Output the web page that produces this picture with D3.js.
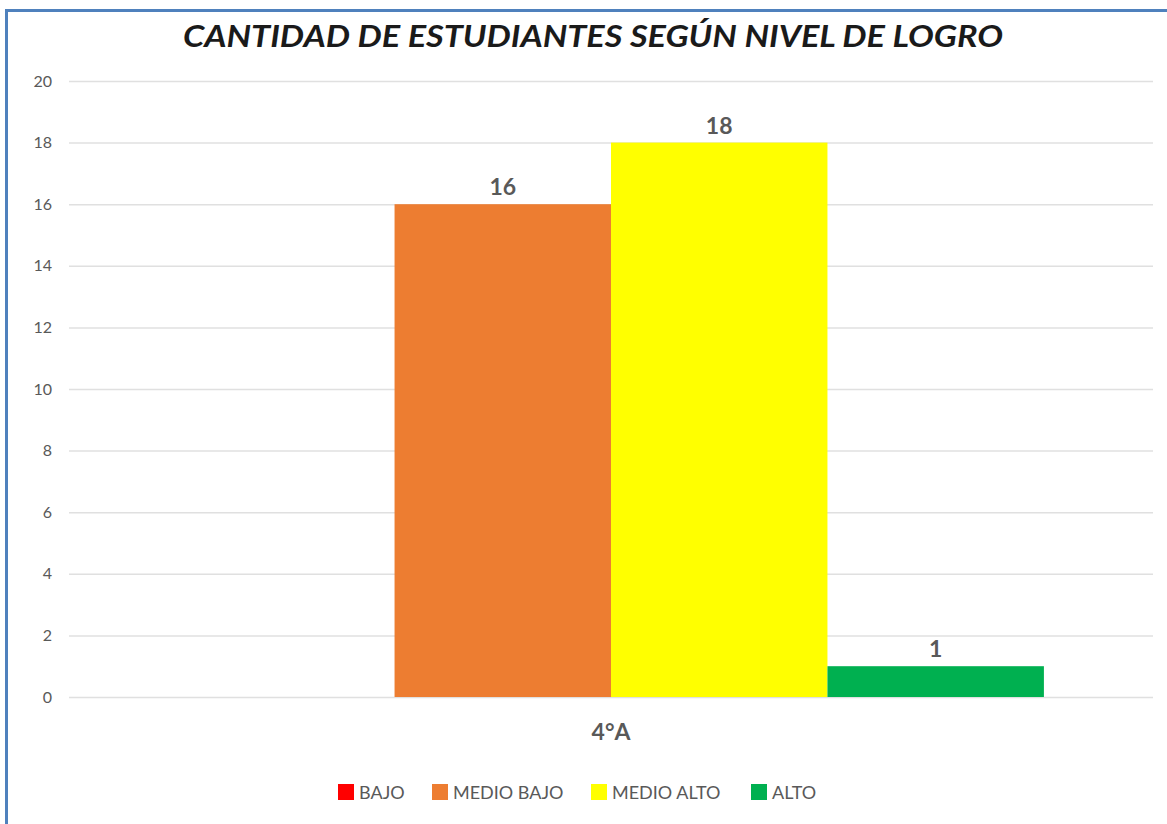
<!DOCTYPE html>
<html>
<head>
<meta charset="utf-8">
<script src="https://cdn.jsdelivr.net/npm/d3@7"></script>
<style>
	body { margin: 0; background: #fff; }
	svg { display: block; }
</style>
</head>
<body>
<div id="chart"></div>
<script>
// data
const categories = ["4°A"];
const series = ["BAJO", "MEDIO BAJO", "MEDIO ALTO", "ALTO"];
const values = [0, 16, 18, 1];
const colors = ["#ff0000", "#ed7d31", "#ffff00", "#00b050"];
const yTicks = [0, 2, 4, 6, 8, 10, 12, 14, 16, 18, 20];
const title = "CANTIDAD DE ESTUDIANTES SEGÚN NIVEL DE LOGRO";

const W = 1167, H = 824;
const margin = { left: 69, right: 14, top: 81, bottom: 127 };
const font = "Lato, 'Open Sans', sans-serif";

const svg = d3
	.select("#chart")
	.append("svg")
	.attr("width", W)
	.attr("height", H);

// outer frame (only top and left edges are visible in the picture)
svg.append("line")
	.attr("x1", 6).attr("x2", W).attr("y1", 10.5).attr("y2", 10.5)
	.attr("stroke", "#4f81bd").attr("stroke-width", 3);
svg.append("line")
	.attr("x1", 6.5).attr("x2", 6.5).attr("y1", 9).attr("y2", H)
	.attr("stroke", "#4f81bd").attr("stroke-width", 3);

const x0 = d3.scaleBand()
	.domain(categories)
	.range([margin.left, W - margin.right])
	.paddingOuter(0.126);

const x1 = d3.scaleBand()
	.domain(series)
	.range([0, x0.bandwidth()])
	.paddingInner(0)
	.paddingOuter(0);

const y = d3.scaleLinear()
	.domain([0, 20])
	.range([H - margin.bottom, margin.top]);

// gridlines + y labels
const yAxis = svg.append("g")
	.attr("class", "y-axis")
	.attr("transform", `translate(${margin.left}, 0)`)
	.call(
		d3.axisLeft(y)
			.tickValues(yTicks)
			.tickSize(-(W - margin.left - margin.right))
			.tickPadding(17)
	);
yAxis.select(".domain").remove();
yAxis.selectAll(".tick line").attr("stroke", "#e0e0e0").attr("stroke-width", 1.5);
yAxis.selectAll(".tick text")
	.attr("fill", "#595959")
	.attr("font-family", font)
	.attr("font-size", 16);

// bars
const group = svg.append("g")
	.selectAll("g")
	.data(categories)
	.join("g")
	.attr("transform", (c) => `translate(${x0(c)}, 0)`);

const bars = series.map((s, i) => ({ s, v: values[i], c: colors[i] }));

group.selectAll("rect")
	.data(bars)
	.join("rect")
	.attr("x", (d) => x1(d.s))
	.attr("y", (d) => y(d.v))
	.attr("width", x1.bandwidth())
	.attr("height", (d) => y(0) - y(d.v))
	.attr("fill", (d) => d.c);

// value labels
group.selectAll("text.val")
	.data(bars.filter((d) => d.v > 0))
	.join("text")
	.attr("class", "val")
	.attr("x", (d) => x1(d.s) + x1.bandwidth() / 2)
	.attr("y", (d) => y(d.v) - 9)
	.attr("text-anchor", "middle")
	.attr("fill", "#595959")
	.attr("font-family", font)
	.attr("font-weight", "bold")
	.attr("font-size", 23)
	.text((d) => d.v);

// category label
svg.append("g")
	.selectAll("text")
	.data(categories)
	.join("text")
	.attr("x", (c) => x0(c) + x0.bandwidth() / 2)
	.attr("y", 740)
	.attr("text-anchor", "middle")
	.attr("fill", "#595959")
	.attr("font-family", font)
	.attr("font-weight", "bold")
	.attr("font-size", 23)
	.text((c) => c);

// title
svg.append("text")
	.attr("x", 593)
	.attr("y", 47)
	.attr("text-anchor", "middle")
	.attr("fill", "#1a1a1a")
	.attr("font-family", font)
	.attr("font-style", "italic")
	.attr("font-weight", "bold")
	.attr("font-size", 30)
	.attr("textLength", 820)
	.attr("lengthAdjust", "spacingAndGlyphs")
	.text(title);

// legend
const legendX = [338, 432, 591, 751];
const legend = svg.append("g")
	.selectAll("g")
	.data(series)
	.join("g")
	.attr("transform", (s, i) => `translate(${legendX[i]}, 784)`);

legend.append("rect")
	.attr("width", 16)
	.attr("height", 16)
	.attr("fill", (s, i) => colors[i]);

legend.append("text")
	.attr("x", 21)
	.attr("y", 14.5)
	.attr("fill", "#595959")
	.attr("font-family", font)
	.attr("font-size", 18)
	.text((s) => s);
</script>
</body>
</html>
